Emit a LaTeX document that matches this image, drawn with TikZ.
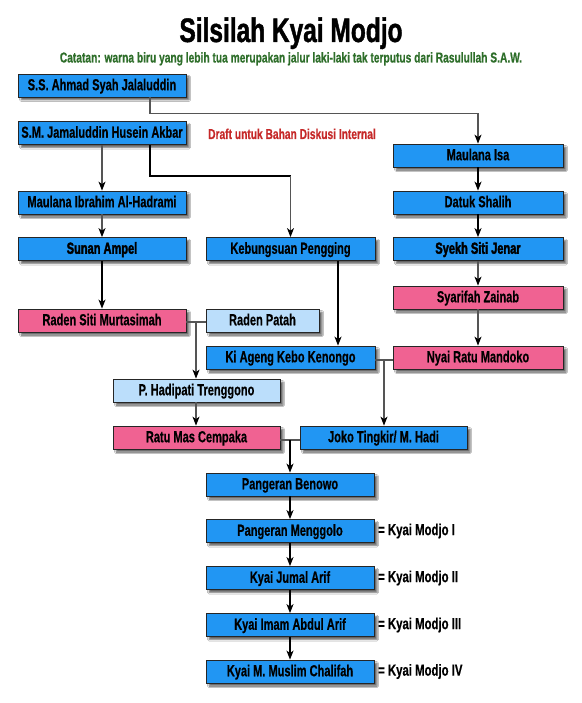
\documentclass[tikz,border=0pt]{standalone}
\usepackage{fontspec}
\setmainfont{Liberation Sans}
\newfontfamily\osw{Liberation Sans}[FakeStretch=0.69,FakeBold=0.5]
\newfontfamily\oswh{Liberation Sans}[FakeStretch=0.69,FakeBold=2.2]
\newfontfamily\oswt{Liberation Sans}[FakeStretch=0.72,FakeBold=1.2]
\newfontfamily\osws{Liberation Sans}[FakeStretch=0.71,FakeBold=0.5]
\usetikzlibrary{arrows.meta,shadows.blur}
\definecolor{dkblue}{HTML}{2196F3}
\definecolor{pinkc}{HTML}{F06292}
\definecolor{ltblue}{HTML}{BBDEFB}
\definecolor{subgreen}{HTML}{2E6E2A}
\definecolor{draftred}{HTML}{C62828}
\definecolor{lngray}{HTML}{555555}
\tikzset{
  box/.style={draw=black!85, line width=0.8pt, minimum height=23pt, inner sep=0pt,
    text height=11.5pt, text depth=2pt,
    font=\osw\bfseries\fontsize{16}{16}\selectfont,
    blur shadow={shadow xshift=3pt, shadow yshift=-3pt, shadow blur steps=4, shadow blur radius=1.5pt, shadow opacity=60}},
  dk/.style={box, fill=dkblue},
  pk/.style={box, fill=pinkc},
  lt/.style={box, fill=ltblue},
  hv/.style={font=\oswh\bfseries\fontsize{16}{16}\selectfont},
  ln/.style={draw=lngray, line width=1.1pt},
  lnb/.style={draw=black, line width=1.4pt},
  arr/.style={-{Stealth[length=9pt,width=7pt,inset=2.5pt,color=black]}},
  lbl/.style={anchor=west, inner sep=0pt, font=\osws\bfseries\fontsize{16}{16}\selectfont}
}
\begin{document}
\begin{tikzpicture}[x=1pt,y=-1pt]
\fill[white] (0,0) rectangle (581,703);
\useasboundingbox (0,0) rectangle (581,703);
% titles
\node[anchor=base, inner sep=0pt, font=\oswt\bfseries\fontsize{34}{34}\selectfont] (title) at (291,42) {Silsilah Kyai Modjo};
\node[anchor=base, inner sep=0pt, text=subgreen, font=\osws\bfseries\fontsize{14.4}{14.4}\selectfont] (sub) at (291,62.5) {Catatan: warna biru yang lebih tua merupakan jalur laki-laki tak terputus dari Rasulullah S.A.W.};
\node[anchor=base, inner sep=0pt, text=draftred, font=\osws\bfseries\fontsize{14.4}{14.4}\selectfont] (draft) at (292,139) {Draft untuk Bahan Diskusi Internal};
% column A
\node[dk, minimum width=168pt] (ss) at (102,85.5) {S.S. Ahmad Syah Jalaluddin};
\node[dk, minimum width=168pt] (sm) at (102,133) {S.M. Jamaluddin Husein Akbar};
\node[dk, minimum width=168pt] (ibr) at (102,202.5) {Maulana Ibrahim Al-Hadrami};
\node[dk, hv, minimum width=168pt] (amp) at (102,249) {Sunan Ampel};
\node[pk, minimum width=168pt] (rsm) at (102,320.5) {Raden Siti Murtasimah};
% column C
\node[dk, minimum width=170pt] (isa) at (478,155.5) {Maulana Isa};
\node[dk, minimum width=170pt] (dat) at (478,202.5) {Datuk Shalih};
\node[dk, hv, minimum width=170pt] (syk) at (478,249) {Syekh Siti Jenar};
\node[pk, minimum width=170pt] (syz) at (478,297.5) {Syarifah Zainab};
\node[pk, minimum width=170pt] (nyai) at (478,357.5) {Nyai Ratu Mandoko};
% column B
\node[dk, minimum width=169pt] (keb) at (290.5,249) {Kebungsuan Pengging};
\node[lt, minimum width=113pt] (rp) at (262.5,320.5) {Raden Patah};
\node[dk, minimum width=169pt] (ki) at (290.5,357.5) {Ki Ageng Kebo Kenongo};
\node[lt, minimum width=167pt] (hadi) at (196.5,390.5) {P. Hadipati Trenggono};
\node[pk, minimum width=167pt] (ratu) at (196.5,437.5) {Ratu Mas Cempaka};
\node[dk, minimum width=167pt] (joko) at (383.5,437.5) {Joko Tingkir/ M. Hadi};
\node[dk, minimum width=168pt] (ben) at (290,484.5) {Pangeran Benowo};
\node[dk, minimum width=168pt] (meng) at (290,531) {Pangeran Menggolo};
\node[dk, minimum width=168pt] (jum) at (290,578) {Kyai Jumal Arif};
\node[dk, minimum width=168pt] (imam) at (290,625) {Kyai Imam Abdul Arif};
\node[dk, minimum width=168pt] (mus) at (290,671.5) {Kyai M. Muslim Chalifah};
% labels
\node[lbl] (l1) at (378,531) {= Kyai Modjo I};
\node[lbl] (l2) at (378,578) {= Kyai Modjo II};
\node[lbl] (l3) at (378,625) {= Kyai Modjo III};
\node[lbl] (l4) at (378,671.5) {= Kyai Modjo IV};
% junctions
\coordinate (j1) at (196,322);
\coordinate (j2) at (384,360);
\coordinate (j3) at (290,440);
% connectors
\draw[ln,arr] ([xshift=48pt]ss.south) -- ++(0,16.5) -| (isa.north);
\draw[ln,arr] (sm.south) -- (ibr.north);
\draw[lnb] ([xshift=48pt]sm.south) -- ++(0,31) -- ++(140.5,0) coordinate (k1);
\draw[ln,arr] (k1) -- (keb.north);
\draw[ln,arr] (ibr.south) -- (amp.north);
\draw[lnb,arr] (amp.south) -- (rsm.north);
\draw[lnb,arr] (isa.south) -- (dat.north);
\draw[lnb,arr] (dat.south) -- (syk.north);
\draw[ln,arr] (syk.south) -- (syz.north);
\draw[ln,arr] (syz.south) -- (nyai.north);
\draw[lnb,arr] ([xshift=47.5pt]keb.south) -- ([xshift=47.5pt]keb.south |- ki.north);
\draw[ln] (rsm.east |- j1) -- (rp.west |- j1);
\draw[ln,arr] (j1) -- (j1 |- hadi.north);
\draw[ln] (ki.east |- j2) -- (nyai.west |- j2);
\draw[ln,arr] (j2) -- (j2 |- joko.north);
\draw[ln,arr] (hadi.south -| j1) -- (j1 |- ratu.north);
\draw[ln] (ratu.east |- j3) -- (joko.west |- j3);
\draw[lnb,arr] (j3) -- (j3 |- ben.north);
\draw[lnb,arr] (ben.south) -- (meng.north);
\draw[lnb,arr] (meng.south) -- (jum.north);
\draw[lnb,arr] (jum.south) -- (imam.north);
\draw[lnb,arr] (imam.south) -- (mus.north);
\end{tikzpicture}
\end{document}
